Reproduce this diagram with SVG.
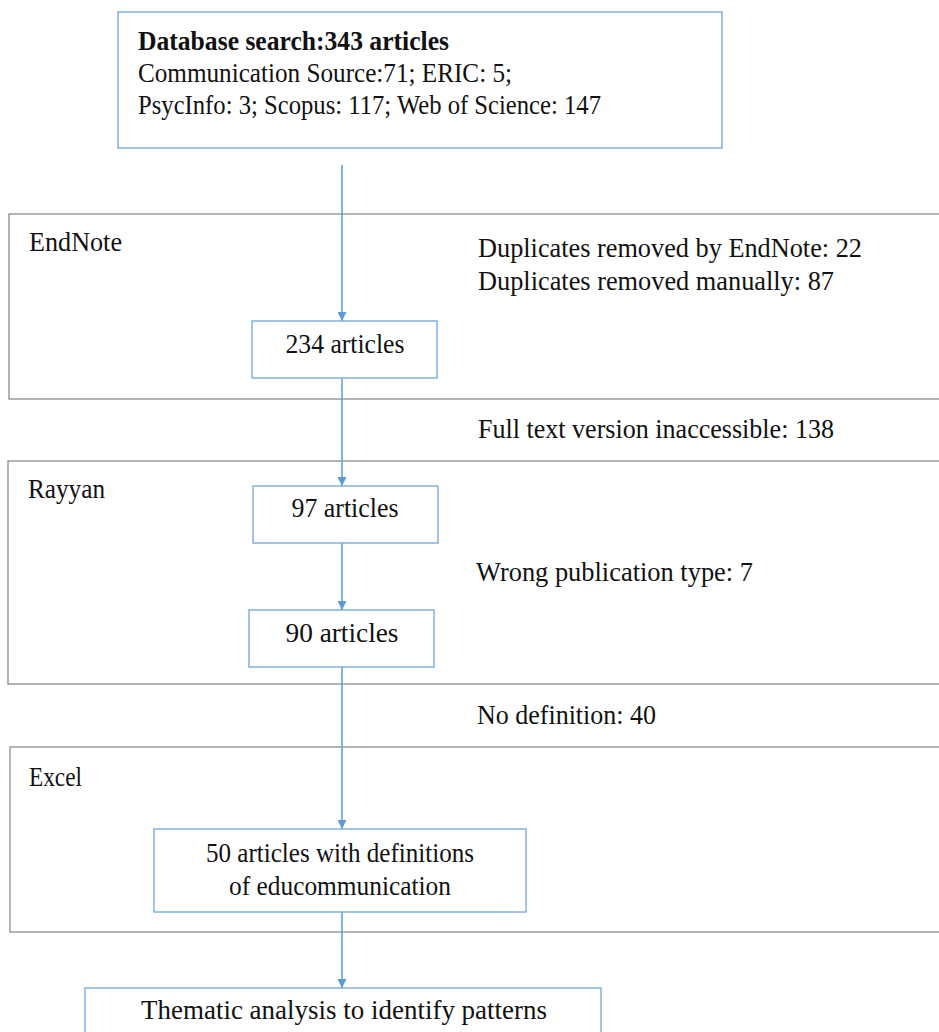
<svg xmlns="http://www.w3.org/2000/svg" width="939" height="1032" viewBox="0 0 939 1032">
<style>
.t{font-family:"Liberation Serif","DejaVu Serif",serif;font-size:27px;fill:#111}
.b{font-weight:bold}
.m{text-anchor:middle}
.grp{fill:none;stroke:#8c8c8c;stroke-width:1.3}
.node{fill:#fff;stroke:#6fa6da;stroke-width:1.3}
.con{stroke:#5b9bd5;stroke-width:1.5;fill:none;marker-end:url(#ah)}
</style>
<defs>
<marker id="ah" viewBox="0 0 10 10" refX="10" refY="5" markerWidth="9" markerHeight="9" markerUnits="userSpaceOnUse" orient="auto">
<path d="M0,0 L10,5 L0,10 z" fill="#5b9bd5"/>
</marker>
</defs>
<rect width="939" height="1032" fill="#fff"/>
<g id="stage-endnote"><rect class="grp" x="9" y="214" width="940" height="185"/><text class="t" x="29" y="251" textLength="93" lengthAdjust="spacingAndGlyphs">EndNote</text>
<text class="t" x="478" y="257" textLength="384" lengthAdjust="spacingAndGlyphs">Duplicates removed by EndNote: 22</text>
<text class="t" x="478" y="290" textLength="356" lengthAdjust="spacingAndGlyphs">Duplicates removed manually: 87</text></g>
<g id="stage-rayyan"><rect class="grp" x="8" y="461" width="940" height="223"/><text class="t" x="28" y="498" textLength="77" lengthAdjust="spacingAndGlyphs">Rayyan</text>
<text class="t" x="476" y="581" textLength="277" lengthAdjust="spacingAndGlyphs">Wrong publication type: 7</text></g>
<g id="stage-excel"><rect class="grp" x="10" y="747" width="940" height="185"/><text class="t" x="29" y="786" textLength="53" lengthAdjust="spacingAndGlyphs">Excel</text></g>
<text class="t" x="478" y="438" textLength="356" lengthAdjust="spacingAndGlyphs">Full text version inaccessible: 138</text>
<text class="t" x="477" y="724" textLength="179" lengthAdjust="spacingAndGlyphs">No definition: 40</text>
<g id="connectors">
<line class="con" x1="342" y1="165" x2="342" y2="321"/>
<line class="con" x1="342" y1="378" x2="342" y2="486"/>
<line class="con" x1="342" y1="543" x2="342" y2="610"/>
<line class="con" x1="342" y1="667" x2="342" y2="829"/>
<line class="con" x1="342" y1="912" x2="342" y2="988"/>
</g>
<g id="db-search"><rect class="node" x="118" y="12" width="604" height="136"/>
<text class="t b" x="138" y="50" textLength="311" lengthAdjust="spacingAndGlyphs">Database search:343 articles</text>
<text class="t" x="138" y="82" textLength="374" lengthAdjust="spacingAndGlyphs">Communication Source:71; ERIC: 5;</text>
<text class="t" x="138" y="114" textLength="463" lengthAdjust="spacingAndGlyphs">PsycInfo: 3; Scopus: 117; Web of Science: 147</text></g>
<g id="n234"><rect class="node" x="252" y="321" width="185" height="57"/><text class="t m" x="345" y="353" textLength="119" lengthAdjust="spacingAndGlyphs">234 articles</text></g>
<g id="n97"><rect class="node" x="253" y="486" width="185" height="57"/><text class="t m" x="345" y="517" textLength="107" lengthAdjust="spacingAndGlyphs">97 articles</text></g>
<g id="n90"><rect class="node" x="249" y="610" width="185" height="57"/><text class="t m" x="342" y="642" textLength="113" lengthAdjust="spacingAndGlyphs">90 articles</text></g>
<g id="n50"><rect class="node" x="154" y="829" width="372" height="83"/><text class="t m" x="340" y="862" textLength="268" lengthAdjust="spacingAndGlyphs">50 articles with definitions</text><text class="t m" x="340" y="895" textLength="222" lengthAdjust="spacingAndGlyphs">of educommunication</text></g>
<g id="thematic"><rect class="node" x="85" y="988" width="516" height="60"/><text class="t m" x="344" y="1019" textLength="406" lengthAdjust="spacingAndGlyphs">Thematic analysis to identify patterns</text></g>
</svg>
